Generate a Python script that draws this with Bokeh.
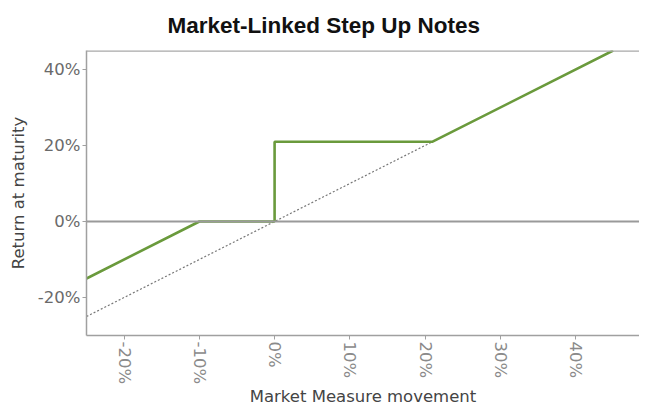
import math
from bokeh.plotting import figure
from bokeh.models import Span, Title, PrintfTickFormatter, FixedTicker, Range1d
from bokeh.embed import file_html
from bokeh.resources import INLINE

# Data (percent)
payoff_x = [-25, -10, 0, 0, 21, 45]
payoff_y = [-15, 0, 0, 21, 21, 45]
ref_x = [-25, 21]
ref_y = [-25, 21]
x_ticks = [-20, -10, 0, 10, 20, 30, 40]
y_ticks = [-20, 0, 20, 40]

p = figure(width=639, height=409, output_backend="svg", toolbar_location=None,
           x_range=Range1d(-25, 48.5), y_range=Range1d(-30, 45),
           min_border_left=86, min_border_right=0, min_border_top=50, min_border_bottom=69)
p.outline_line_color = None
p.grid.visible = False
p.background_fill_color = "white"

p.line(ref_x, ref_y, line_color="#777777", line_width=1.2, line_dash="2 2")
p.add_layout(Span(location=0, dimension="width", line_color="#9a9a9a", line_width=1.8))
p.add_layout(Span(location=45, dimension="width", line_color="#a8a8a8", line_width=2.5))
p.line(payoff_x, payoff_y, line_color="#6a9a3c", line_width=2.6)

for ax in (p.xaxis[0], p.yaxis[0]):
    ax.axis_line_color = "#a0a0a0"
    ax.axis_line_width = 1.5
    ax.major_tick_line_color = "#a0a0a0"
    ax.major_tick_out = 4
    ax.major_tick_in = 0
    ax.minor_tick_line_color = None
    ax.major_label_text_font = "DejaVu Sans"
    ax.major_label_text_font_size = "16.5px"
    ax.formatter = PrintfTickFormatter(format="%d%%")
    ax.axis_label_text_font = "DejaVu Sans"
    ax.axis_label_text_font_size = "16.5px"
    ax.axis_label_text_font_style = "normal"
    ax.axis_label_text_color = "#444444"

p.xaxis[0].ticker = FixedTicker(ticks=x_ticks)
p.yaxis[0].ticker = FixedTicker(ticks=y_ticks)
p.xaxis[0].major_label_orientation = -math.pi / 2
p.xaxis[0].major_label_text_color = "#8a8a8a"
p.xaxis[0].major_label_standoff = 2
p.xaxis[0].axis_label = "Market Measure movement"
p.xaxis[0].axis_label_standoff = 0
p.yaxis[0].major_label_text_color = "#6a6a6a"
p.yaxis[0].major_label_standoff = 2
p.yaxis[0].axis_label = "Return at maturity"
p.yaxis[0].axis_label_standoff = 7

p.title = Title(text="Market-Linked Step Up Notes", align="left", offset=81,
                vertical_align="top",
                text_font="Liberation Sans", text_font_size="22.5px", text_font_style="bold",
                text_color="#111111", standoff=22)

open("out.html", "w").write(file_html(p, INLINE))
